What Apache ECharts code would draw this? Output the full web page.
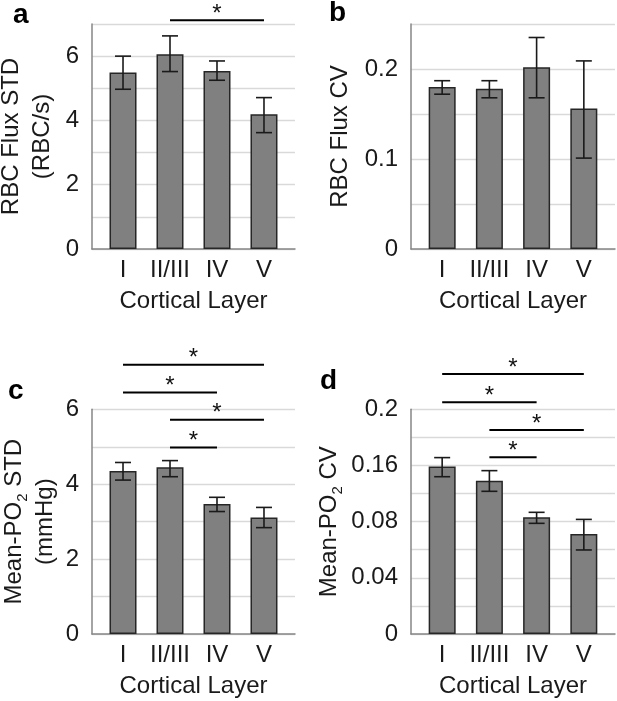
<!DOCTYPE html>
<html>
<head>
<meta charset="utf-8">
<script src="https://cdn.jsdelivr.net/npm/echarts@6/dist/echarts.min.js"></script>
<style>
html,body{margin:0;padding:0;background:#fff;}
#c{width:617px;height:701px;}
</style>
</head>
<body>
<div id="c"></div>
<script>
// ---- data ----
const categories = ['I', 'II/III', 'IV', 'V'];

const meanA = [5.49, 6.06, 5.54, 4.19];
const lowA  = [4.97, 5.52, 5.25, 3.62];
const highA = [6.00, 6.63, 5.85, 4.71];
const sigA  = [[1, 3, 7.12]];
const yLabelsA = ['0', '2', '4', '6'];

const meanB = [0.180, 0.178, 0.202, 0.156];
const lowB  = [0.172, 0.168, 0.168, 0.101];
const highB = [0.187, 0.187, 0.235, 0.209];
const yLabelsB = ['0', '0.1', '0.2'];

const meanC = [4.35, 4.45, 3.47, 3.11];
const lowC  = [4.11, 4.20, 3.27, 2.84];
const highC = [4.58, 4.63, 3.65, 3.38];
const sigC  = [[0, 3, 7.19], [0, 2, 6.45], [1, 3, 5.72], [1, 2, 4.98]];
const yLabelsC = ['0', '2', '4', '6'];

const meanD = [0.149, 0.1365, 0.104, 0.089];
const lowD  = [0.140, 0.127, 0.0985, 0.0748];
const highD = [0.157, 0.1454, 0.1083, 0.102];
const sigD  = [[0, 3, 0.2314], [0, 2, 0.2062], [1, 3, 0.1816], [1, 2, 0.1573]];
const yLabelsD = ['0', '0.04', '0.08', '0.16', '0.2'];

// ---- chart ----
const FONT = '"Liberation Sans", Arial, sans-serif';
const TXT = '#1a1a1a';
const chart = echarts.init(document.getElementById('c'), null, {renderer: 'canvas'});

const grids = [
  {left: 92,  top: 24,    width: 203, height: 225},
  {left: 411, top: 24,    width: 204, height: 225},
  {left: 92,  top: 409.3, width: 203, height: 224.7},
  {left: 411, top: 409.3, width: 204, height: 224.7}
].map(g => Object.assign(g, {containLabel: false, outerBoundsMode: 'none'}));

function xAxisFor(i) {
  return {
    type: 'value', gridIndex: i, min: -0.66, max: 3.66,
    splitLine: {show: false},
    axisTick: {show: false},
    axisLine: {show: true, onZero: false, lineStyle: {color: '#868686', width: 1.5}},
    axisLabel: {
      customValues: [0, 1, 2, 3],
      formatter: v => categories[Math.round(v)],
      fontFamily: FONT, fontSize: 24, color: TXT, margin: 9
    },
    name: 'Cortical Layer', nameLocation: 'middle', nameGap: 40,
    nameTextStyle: {fontFamily: FONT, fontSize: 24, color: TXT}
  };
}

function labelFmt(labels, step) {
  return v => {
    const k = Math.round(v / step);
    if (Math.abs(v - k * step) > step * 1e-6) return '';
    return labels[k] !== undefined ? labels[k] : '';
  };
}

const richName = {
  n: {fontFamily: FONT, fontSize: 24, color: TXT, lineHeight: 31},
  s: {fontFamily: FONT, fontSize: 15, color: TXT, lineHeight: 12, verticalAlign: 'bottom'}
};

function yAxisFor(i, max, interval, labels, step, name, gap) {
  return {
    type: 'value', gridIndex: i, min: 0, max: max, interval: interval,
    splitLine: {show: true, lineStyle: {color: '#d9d9d9', width: 1.3}},
    axisTick: {show: false},
    axisLine: {show: true, onZero: false, lineStyle: {color: '#868686', width: 1.5}},
    axisLabel: {formatter: labelFmt(labels, step), fontFamily: FONT, fontSize: 24, color: TXT, margin: 13},
    name: name, nameLocation: 'middle', nameGap: gap, nameRotate: 90,
    nameTextStyle: {fontFamily: FONT, fontSize: 24, color: TXT, lineHeight: 31, rich: richName}
  };
}

function barSeries(i, mean) {
  return {
    type: 'bar', xAxisIndex: i, yAxisIndex: i, barWidth: 27,
    data: mean.map((v, k) => [k, v]),
    itemStyle: {color: '#808080', borderColor: '#262626', borderWidth: 1.5},
    silent: true
  };
}

function errSeries(i, low, high) {
  return {
    type: 'custom', xAxisIndex: i, yAxisIndex: i, silent: true, z: 5,
    data: low.map((v, k) => [k, v, high[k]]),
    encode: {x: 0, y: [1, 2]},
    renderItem: (params, api) => {
      const x = api.value(0);
      const p1 = api.coord([x, api.value(1)]);
      const p2 = api.coord([x, api.value(2)]);
      const w = 8;
      const st = {stroke: '#1a1a1a', lineWidth: 1.6};
      return {type: 'group', children: [
        {type: 'line', shape: {x1: p1[0], y1: p1[1], x2: p2[0], y2: p2[1]}, style: st},
        {type: 'line', shape: {x1: p1[0] - w, y1: p1[1], x2: p1[0] + w, y2: p1[1]}, style: st},
        {type: 'line', shape: {x1: p2[0] - w, y1: p2[1], x2: p2[0] + w, y2: p2[1]}, style: st}
      ]};
    }
  };
}

function sigSeries(i, sig) {
  return {
    type: 'custom', xAxisIndex: i, yAxisIndex: i, silent: true, clip: false, z: 6,
    data: sig,
    encode: {x: [0, 1], y: 2},
    renderItem: (params, api) => {
      const a = api.coord([api.value(0), api.value(2)]);
      const b = api.coord([api.value(1), api.value(2)]);
      return {type: 'group', children: [
        {type: 'line', shape: {x1: a[0], y1: a[1], x2: b[0], y2: b[1]}, style: {stroke: '#000', lineWidth: 2}},
        {type: 'text', style: {text: '*', x: (a[0] + b[0]) / 2, y: a[1] - 6, font: '24px ' + FONT,
          fill: '#111', align: 'center', verticalAlign: 'middle'}}
      ]};
    }
  };
}

const option = {
  animation: false,
  backgroundColor: '#fff',
  grid: grids,
  xAxis: [xAxisFor(0), xAxisFor(1), xAxisFor(2), xAxisFor(3)],
  yAxis: [
    yAxisFor(0, 7, 1, yLabelsA, 2, 'RBC Flux STD\n(RBC/s)', 34),
    yAxisFor(1, 0.25, 0.05, yLabelsB, 0.1, 'RBC Flux CV', 55),
    yAxisFor(2, 6, 1, yLabelsC, 2, '{n|Mean-PO}{s|2}{n| STD}\n{n|(mmHg)}', 31),
    yAxisFor(3, 0.2, 0.025, yLabelsD, 0.05, '{n|Mean-PO}{s|2}{n| CV}', 66)
  ],
  series: [
    barSeries(0, meanA), errSeries(0, lowA, highA), sigSeries(0, sigA),
    barSeries(1, meanB), errSeries(1, lowB, highB),
    barSeries(2, meanC), errSeries(2, lowC, highC), sigSeries(2, sigC),
    barSeries(3, meanD), errSeries(3, lowD, highD), sigSeries(3, sigD)
  ],
  graphic: [
    {type: 'text', left: 13, top: 1, style: {text: 'a', font: 'bold 28px ' + FONT, fill: '#000'}},
    {type: 'text', left: 329, top: -1, style: {text: 'b', font: 'bold 28px ' + FONT, fill: '#000'}},
    {type: 'text', left: 8, top: 377, style: {text: 'c', font: 'bold 28px ' + FONT, fill: '#000'}},
    {type: 'text', left: 320, top: 367, style: {text: 'd', font: 'bold 28px ' + FONT, fill: '#000'}}
  ]
};
chart.setOption(option);
</script>
</body>
</html>
